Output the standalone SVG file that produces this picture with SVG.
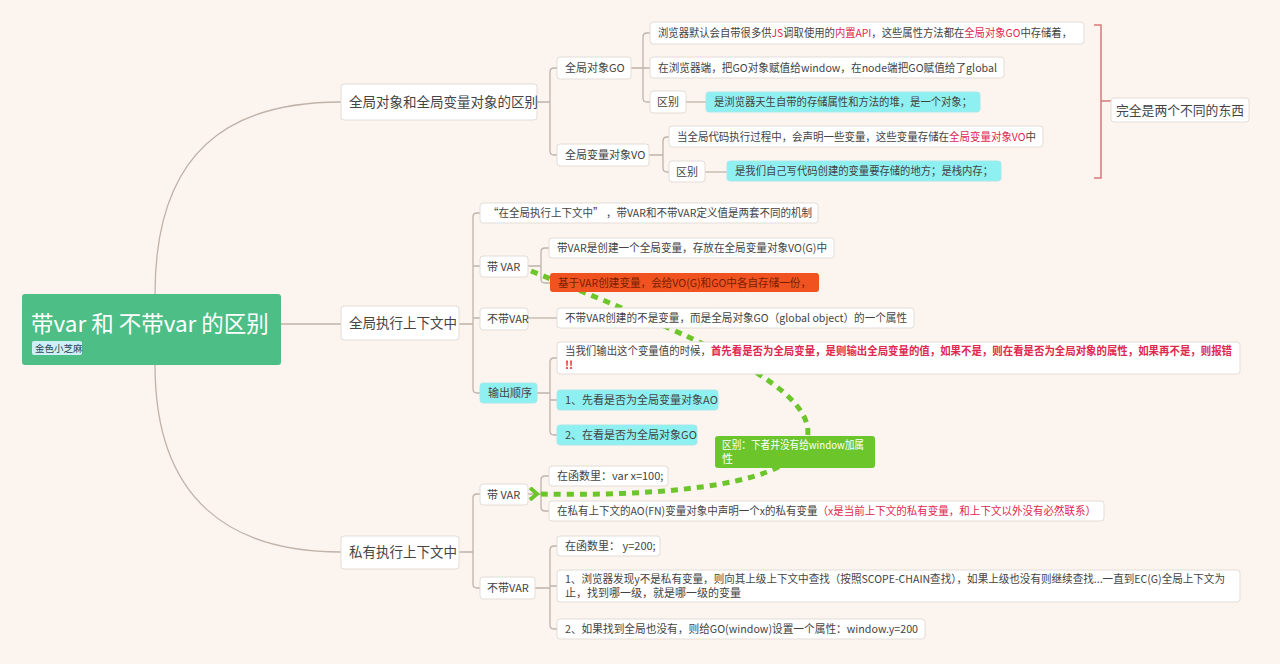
<svg xmlns="http://www.w3.org/2000/svg" width="1280" height="664" viewBox="0 0 1280 664">
<defs>
<style>
text{font-family:"Noto Sans CJK SC","Noto Sans",sans-serif;fill:#444}
.n{fill:#fff;stroke:#e2dcd7;stroke-width:1}
.c{fill:#8ff0f2;stroke:#a8e8ea;stroke-width:1}
.t{font-size:11px}
.l1{font-size:13.5px}
.r{fill:#e0284f}
.rb{fill:#e0284f;font-weight:bold}
.ln{fill:none;stroke:#bfb3aa;stroke-width:1.3}
</style>
<marker id="chev" viewBox="0 0 12 14" refX="2" refY="7" markerWidth="12" markerHeight="14" markerUnits="userSpaceOnUse" orient="auto">
<polyline points="10,1 3,7 10,13" fill="none" stroke="#6cc62b" stroke-width="4"/>
</marker>
</defs>
<rect width="1280" height="664" fill="#fcf5ef"/>
<g id="connectors">
<path class="ln" d="M155 294 C155 150 230 102 341 102"/>
<path class="ln" d="M281 324 H341"/>
<path class="ln" d="M155 365 C155 500 230 552 341 552"/>
<path class="ln" d="M537 102 H550 M557 68 H554 Q550 68 550 72 V151 Q550 155 554 155 H557"/>
<path class="ln" d="M631 68 H650 M650 33 H647 Q643 33 643 37 V98 Q643 102 647 102 H650"/>
<path class="ln" d="M686 102 H706"/>
<path class="ln" d="M649 155 H663 M669 137 H667 Q663 137 663 141 V168 Q663 172 667 172 H669"/>
<path class="ln" d="M705 172 H727"/>
<path class="ln" d="M459 324 H473 M480 213 H477 Q473 213 473 217 V389 Q473 393 477 393 H480 M473 266 H480 M473 318 H480"/>
<path class="ln" d="M528 266 H541 M549 248 H545 Q541 248 541 252 V279 Q541 283 545 283 H550"/>
<path class="ln" d="M528 318 H557"/>
<path class="ln" d="M537 393 H550 M557 358 H554 Q550 358 550 362 V431 Q550 435 554 435 H557 M550 400 H557"/>
<path class="ln" d="M459 552 H473 M480 494 H477 Q473 494 473 498 V584 Q473 588 477 588 H480"/>
<path class="ln" d="M528 494 H541 M549 476 H545 Q541 476 541 480 V507 Q541 511 545 511 H549"/>
<path class="ln" d="M535 588 H550 M557 546 H554 Q550 546 550 550 V625 Q550 629 554 629 H557 M550 586 H557"/>
<path d="M1094 25 H1101 V178 H1094 M1101 101 H1111" fill="none" stroke="#d9777a" stroke-width="1.5"/>
<path d="M531 271 C690 335 830 390 805 445 C780 490 640 496 538 494" fill="none" stroke="#6cc62b" stroke-width="5" stroke-dasharray="7 6" marker-end="url(#chev)"/>
</g>
<g id="root">
<rect x="22" y="294" width="259" height="71" rx="3" fill="#4cbe86"/>
<text x="31" y="332" font-size="22.5" style="fill:#fff">带var 和 不带var 的区别</text>
<rect x="32" y="341" width="50" height="14" rx="2" fill="#cdeff6"/>
<text x="35" y="352" font-size="9.5" style="fill:#345">金色小芝麻</text>
</g>
<g id="n1"><rect class="n" x="341" y="84" width="196" height="36" rx="3"/><text class="l1" x="349" y="107">全局对象和全局变量对象的区别</text></g>
<g id="n2"><rect class="n" x="341" y="306" width="118" height="34" rx="3"/><text class="l1" x="349" y="328">全局执行上下文中</text></g>
<g id="n3"><rect class="n" x="341" y="536" width="118" height="33" rx="3"/><text class="l1" x="349" y="557">私有执行上下文中</text></g>
<g id="go"><rect class="n" x="557" y="57" width="74" height="22" rx="3"/><text class="t" x="565" y="72">全局对象GO</text></g>
<g id="vo"><rect class="n" x="557" y="144" width="92" height="22" rx="3"/><text class="t" x="565" y="159">全局变量对象VO</text></g>
<g id="go1"><rect class="n" x="650" y="22" width="434" height="22" rx="3"/><text class="t" x="658" y="37" textLength="414" lengthAdjust="spacingAndGlyphs">浏览器默认会自带很多供<tspan class="r">JS</tspan>调取使用的<tspan class="r">内置API</tspan>，这些属性方法都在<tspan class="r">全局对象GO</tspan>中存储着，</text></g>
<g id="go2"><rect class="n" x="650" y="57" width="354" height="21" rx="3"/><text class="t" x="658" y="72" textLength="339" lengthAdjust="spacingAndGlyphs">在浏览器端，把GO对象赋值给window，在node端把GO赋值给了global</text></g>
<g id="go3"><rect class="n" x="650" y="91" width="36" height="22" rx="3"/><text class="t" x="657" y="106">区别</text></g>
<g id="go4"><rect class="c" x="706" y="92" width="274" height="20" rx="3"/><text class="t" x="714" y="106" textLength="258" lengthAdjust="spacingAndGlyphs">是浏览器天生自带的存储属性和方法的堆，是一个对象；</text></g>
<g id="vo1"><rect class="n" x="669" y="126" width="374" height="21" rx="3"/><text class="t" x="677" y="141" textLength="359" lengthAdjust="spacingAndGlyphs">当全局代码执行过程中，会声明一些变量，这些变量存储在<tspan class="r">全局变量对象VO</tspan>中</text></g>
<g id="vo2"><rect class="n" x="669" y="161" width="36" height="21" rx="3"/><text class="t" x="676" y="176">区别</text></g>
<g id="vo3"><rect class="c" x="727" y="161" width="274" height="20" rx="3"/><text class="t" x="735" y="175" textLength="258" lengthAdjust="spacingAndGlyphs">是我们自己写代码创建的变量要存储的地方；是栈内存；</text></g>
<g id="summary"><rect class="n" x="1111" y="98" width="138" height="24" rx="3"/><text x="1116" y="115" font-size="12.8">完全是两个不同的东西</text></g>
<g id="g0"><rect class="n" x="480" y="203" width="338" height="20" rx="3"/><text class="t" x="488" y="217" textLength="324" lengthAdjust="spacingAndGlyphs">“在全局执行上下文中” ，带VAR和不带VAR定义值是两套不同的机制</text></g>
<g id="gv"><rect class="n" x="480" y="256" width="48" height="21" rx="3"/><text class="t" x="487" y="271">带 VAR</text></g>
<g id="gv1"><rect class="n" x="549" y="238" width="285" height="20" rx="3"/><text class="t" x="557" y="252" textLength="270" lengthAdjust="spacingAndGlyphs">带VAR是创建一个全局变量，存放在全局变量对象VO(G)中</text></g>
<g id="gv2"><rect x="550" y="273" width="269" height="19" rx="3" fill="#f0531f"/><text class="t" x="558" y="287" style="fill:#7a1e00" textLength="253" lengthAdjust="spacingAndGlyphs">基于VAR创建变量，会给VO(G)和GO中各自存储一份，</text></g>
<g id="gn"><rect class="n" x="480" y="308" width="48" height="22" rx="3"/><text class="t" x="487" y="323">不带VAR</text></g>
<g id="gn1"><rect class="n" x="557" y="308" width="357" height="20" rx="3"/><text class="t" x="565" y="322" textLength="342" lengthAdjust="spacingAndGlyphs">不带VAR创建的不是变量，而是全局对象GO（global object）的一个属性</text></g>
<g id="go_order"><rect class="c" x="480" y="383" width="57" height="20" rx="3"/><text class="t" x="488" y="397">输出顺序</text></g>
<g id="o1"><rect class="n" x="557" y="342" width="683" height="32" rx="3"/><text class="t" x="565" y="355" textLength="667" lengthAdjust="spacingAndGlyphs">当我们输出这个变量值的时候，<tspan class="rb">首先看是否为全局变量，是则输出全局变量的值，如果不是，则在看是否为全局对象的属性，如果再不是，则报错</tspan></text><text class="t rb" x="565" y="369">!!</text></g>
<g id="o2"><rect class="c" x="557" y="390" width="161" height="20" rx="3"/><text class="t" x="565" y="404">1、先看是否为全局变量对象AO</text></g>
<g id="o3"><rect class="c" x="557" y="425" width="140" height="20" rx="3"/><text class="t" x="565" y="439">2、在看是否为全局对象GO</text></g>
<g id="pv"><rect class="n" x="480" y="484" width="48" height="21" rx="3"/><text class="t" x="487" y="499">带 VAR</text></g>
<g id="pv1"><rect class="n" x="549" y="466" width="119" height="20" rx="3"/><text class="t" x="557" y="480">在函数里：var x=100;</text></g>
<g id="pv2"><rect class="n" x="549" y="501" width="555" height="20" rx="3"/><text class="t" x="557" y="515" textLength="539" lengthAdjust="spacingAndGlyphs">在私有上下文的AO(FN)变量对象中声明一个x的私有变量<tspan class="r">（x是当前上下文的私有变量，和上下文以外没有必然联系）</tspan></text></g>
<g id="pn"><rect class="n" x="480" y="577" width="55" height="22" rx="3"/><text class="t" x="487" y="592">不带VAR</text></g>
<g id="pn1"><rect class="n" x="557" y="536" width="103" height="20" rx="3"/><text class="t" x="565" y="550">在函数里： y=200;</text></g>
<g id="pn2"><rect class="n" x="557" y="570" width="683" height="32" rx="3"/><text class="t" x="565" y="583" textLength="660" lengthAdjust="spacingAndGlyphs">1、浏览器发现y不是私有变量，则向其上级上下文中查找（按照SCOPE-CHAIN查找），如果上级也没有则继续查找...一直到EC(G)全局上下文为</text><text class="t" x="565" y="597">止，找到哪一级，就是哪一级的变量</text></g>
<g id="pn3"><rect class="n" x="557" y="619" width="368" height="20" rx="3"/><text class="t" x="565" y="633" textLength="353" lengthAdjust="spacingAndGlyphs">2、如果找到全局也没有，则给GO(window)设置一个属性：window.y=200</text></g>
<g id="note"><rect x="715" y="436" width="160" height="32" rx="3" fill="#6cc62b"/><text class="t" x="722" y="449" style="fill:#fff" textLength="142" lengthAdjust="spacingAndGlyphs">区别：下者并没有给window加属</text><text class="t" x="722" y="463" style="fill:#fff">性</text></g>
</svg>
